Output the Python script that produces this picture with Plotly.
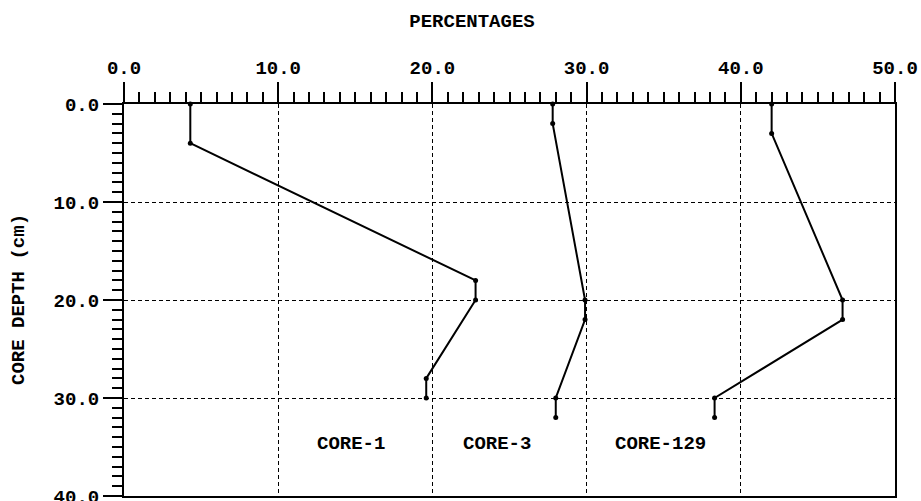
import plotly.graph_objects as go

# ---- data ----
core1_pct = [4.3, 4.3, 22.8, 22.8, 19.6, 19.6]
core1_depth = [0, 4, 18, 20, 28, 30]
core3_pct = [27.8, 27.8, 29.9, 29.9, 28.0, 28.0]
core3_depth = [0, 2, 20, 22, 30, 32]
core129_pct = [42.0, 42.0, 46.6, 46.6, 38.3, 38.3]
core129_depth = [0, 3, 20, 22, 30, 32]

labels = ["CORE-1", "CORE-3", "CORE-129"]
label_x = [14.7, 24.2, 34.8]
label_y = [34.7, 34.7, 34.7]

x_ticks = [0, 10, 20, 30, 40, 50]
y_ticks = [0, 10, 20, 30, 40]

FONT = "Liberation Mono"
fnt = dict(family=FONT, size=19, color="black", weight="bold")

W, H = 921, 501

fig = go.Figure()
for xs, ys in [(core1_pct, core1_depth), (core3_pct, core3_depth), (core129_pct, core129_depth)]:
    fig.add_trace(go.Scatter(
        x=xs, y=ys, mode="lines+markers",
        line=dict(color="black", width=2),
        marker=dict(color="black", size=5),
        cliponaxis=False, showlegend=False, hoverinfo="skip",
    ))

for t, x, y in zip(labels, label_x, label_y):
    fig.add_annotation(x=x, y=y, text=t, showarrow=False,
                       font=fnt, xanchor="center", yanchor="middle")

fig.add_annotation(xref="paper", yref="paper", x=(19 - 124) / 771, y=0.5,
                   text="CORE DEPTH (cm)", textangle=-90, showarrow=False,
                   font=fnt, xanchor="center", yanchor="middle")

fig.update_layout(
    width=W, height=H,
    margin=dict(l=124, r=W - 895, t=104, b=H - 496, autoexpand=False),
    paper_bgcolor="white", plot_bgcolor="white",
    title=dict(text="PERCENTAGES", font=fnt, xref="container", yref="container",
               x=472 / W, y=1 - 20 / H, xanchor="center", yanchor="middle"),
    xaxis=dict(
        side="top", range=[0, 50], tickvals=x_ticks, tickformat=".1f",
        automargin=False, ticklabeloverflow="allow",
        ticks="outside", ticklen=20, tickwidth=2, tickcolor="black",
        showline=True, linewidth=2, linecolor="black", mirror=True,
        showgrid=True, gridcolor="black", gridwidth=1, griddash="4px,3px",
        zeroline=False, tickfont=fnt,
        minor=dict(dtick=1, ticks="outside", ticklen=10, tickwidth=2,
                   tickcolor="black", showgrid=False),
    ),
    yaxis=dict(
        range=[40, 0], tickvals=y_ticks, tickformat=".1f",
        automargin=False, ticklabeloverflow="allow",
        ticks="outside", ticklen=19, tickwidth=2, tickcolor="black",
        showline=True, linewidth=2, linecolor="black", mirror=True,
        showgrid=True, gridcolor="black", gridwidth=1, griddash="4px,3px",
        zeroline=False, tickfont=fnt,
        minor=dict(dtick=1, ticks="outside", ticklen=10, tickwidth=2,
                   tickcolor="black", showgrid=False),
    ),
)

fig.write_html("out.html",
               config={"displayModeBar": False},
               post_script="document.body.style.margin='0';document.body.style.overflow='hidden';")
